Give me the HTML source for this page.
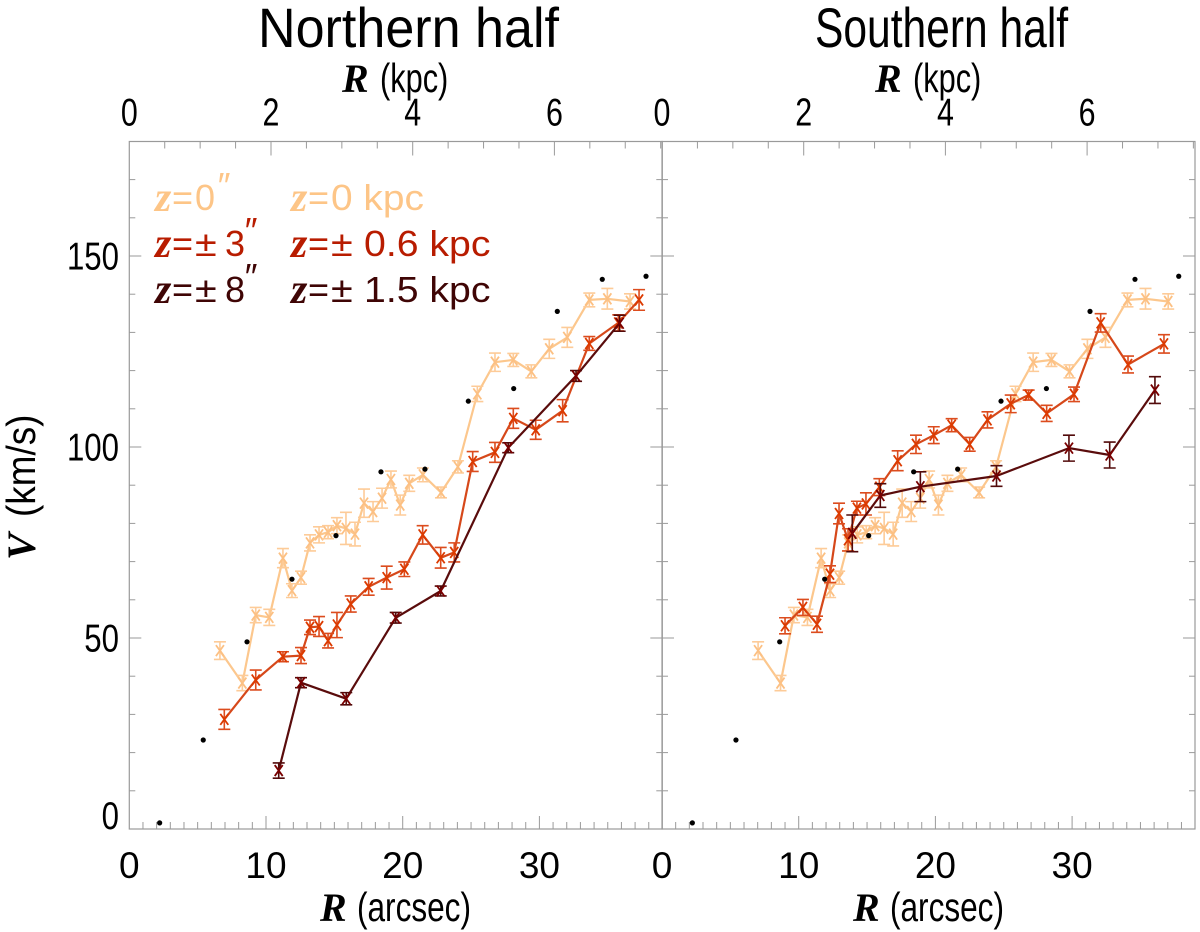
<!DOCTYPE html>
<html lang="en">
<head>
<meta charset="utf-8">
<title>Rotation curves: Northern and Southern halves</title>
<style>
html,body{margin:0;padding:0;background:#fff;}
svg{display:block;}
text{font-family:"Liberation Sans",sans-serif;fill:#000;}
.r{font-family:"Liberation Serif",serif;font-weight:bold;font-style:italic;}
</style>
</head>
<body>
<svg id="chart" xmlns="http://www.w3.org/2000/svg" width="1200" height="932" viewBox="0 0 1200 932">
  <rect width="1200" height="932" fill="#fff"/>

  <text transform="translate(258 47) scale(0.93 1)" font-size="56">Northern half</text>
  <text transform="translate(815 47) scale(0.76 1)" font-size="56">Southern half</text>

  <g>
    <text class="r" x="342" y="92" font-size="40">R</text>
    <text transform="translate(380 92) scale(0.75 1)" font-size="41">(kpc)</text>
  </g>
  <g>
    <text class="r" x="875" y="92" font-size="40">R</text>
    <text transform="translate(913 92) scale(0.75 1)" font-size="41">(kpc)</text>
  </g>
  <g>
    <text class="r" x="320" y="921" font-size="40">R</text>
    <text transform="translate(357 921) scale(0.77 1)" font-size="41">(arcsec)</text>
  </g>
  <g>
    <text class="r" x="853" y="921" font-size="40">R</text>
    <text transform="translate(890 921) scale(0.77 1)" font-size="41">(arcsec)</text>
  </g>
  <g>
    <text class="r" transform="translate(35 560) rotate(-90)" font-size="40">V</text>
    <text transform="translate(35 517) rotate(-90) scale(0.9 1)" font-size="41">(km/s)</text>
  </g>

  <g id="axes"></g>
  <g id="marks"></g>

  <g>
    <g>
      <text class="r" x="155" y="211" font-size="42" style="fill:#fdc587">z</text>
      <text x="172" y="210" font-size="36" style="fill:#fdc587">=</text>
      <text x="195" y="210" font-size="36" style="fill:#fdc587">0</text>
      <text x="216" y="198" font-size="36" font-style="italic" style="fill:#fdc587">″</text>
    </g>
    <g>
      <text class="r" x="155" y="257" font-size="42" style="fill:#b81c00">z</text>
      <text x="172" y="256" font-size="36" style="fill:#b81c00">=</text>
      <text transform="translate(195 256) scale(1.1 1)" font-size="36" style="fill:#b81c00">±</text>
      <text x="225" y="256" font-size="36" style="fill:#b81c00">3</text>
      <text x="243" y="243" font-size="36" font-style="italic" style="fill:#b81c00">″</text>
    </g>
    <g>
      <text class="r" x="155" y="303" font-size="42" style="fill:#3f0505">z</text>
      <text x="172" y="302" font-size="36" style="fill:#3f0505">=</text>
      <text transform="translate(195 302) scale(1.1 1)" font-size="36" style="fill:#3f0505">±</text>
      <text x="225" y="302" font-size="36" style="fill:#3f0505">8</text>
      <text x="243" y="289" font-size="36" font-style="italic" style="fill:#3f0505">″</text>
    </g>
  </g>
  <g>
    <g>
      <text class="r" x="291" y="211" font-size="42" style="fill:#fdc587">z</text>
      <text x="308" y="210" font-size="36" style="fill:#fdc587">=</text>
      <text transform="translate(331 210) scale(1.08 1)" font-size="36" style="fill:#fdc587">0 kpc</text>
    </g>
    <g>
      <text class="r" x="291" y="257" font-size="42" style="fill:#b81c00">z</text>
      <text x="308" y="256" font-size="36" style="fill:#b81c00">=</text>
      <text transform="translate(331 256) scale(1.1 1)" font-size="36" style="fill:#b81c00">±</text>
      <text transform="translate(364 256) scale(1.09 1)" font-size="36" style="fill:#b81c00">0.6 kpc</text>
    </g>
    <g>
      <text class="r" x="291" y="303" font-size="42" style="fill:#3f0505">z</text>
      <text x="308" y="302" font-size="36" style="fill:#3f0505">=</text>
      <text transform="translate(331 302) scale(1.1 1)" font-size="36" style="fill:#3f0505">±</text>
      <text transform="translate(364 302) scale(1.09 1)" font-size="36" style="fill:#3f0505">1.5 kpc</text>
    </g>
  </g>
</svg>
<script>
const dotR = [2.22,5.41,8.61,11.90,15.12,18.41,21.63,24.80,28.12,31.31,34.60,37.80];
const dotV = [1.6,23.3,49.0,65.4,76.8,93.5,94.2,112.0,115.3,135.5,143.9,144.7];

const lightV = [46.7,38.2,56.0,55.4,70.9,62.4,65.8,74.9,77.0,77.7,79.4,78.7,77.2,85.3,83.1,86.6,91.5,84.8,90.5,92.7,88.1,94.8,113.9,122.2,122.8,119.8,125.7,128.7,138.5,138.8,138.1];
const lightE = [2.3,2.0,2.0,2.1,2.5,1.8,1.7,2.1,2.1,1.7,2.1,4.2,3.1,3.7,2.6,2.6,2.2,2.6,2.1,1.8,1.4,1.6,2.0,2.4,1.7,1.7,2.5,2.6,1.8,2.7,2.0];
const lightRNorth = [6.63,8.27,9.25,10.24,11.24,11.90,12.56,13.22,13.88,14.54,15.19,15.85,16.51,17.17,17.83,18.49,19.14,19.82,20.48,21.48,22.80,24.04,25.46,26.75,28.09,29.41,30.72,32.04,33.65,34.97,36.63];
const lightRSouth = [7.03,8.67,9.65,10.64,11.64,12.30,12.96,13.62,14.28,14.94,15.59,16.25,16.91,17.57,18.23,18.89,19.54,20.22,20.88,21.88,23.20,24.44,25.86,27.15,28.49,29.81,31.12,32.44,34.05,35.37,37.03];

const midRNorth = [6.95,9.25,11.24,12.56,13.22,13.88,14.54,15.19,16.20,17.51,18.83,20.12,21.46,22.78,23.77,25.12,26.75,28.09,29.73,31.70,33.65,35.77,37.29];
const midVNorth = [28.7,39.0,45.1,45.4,52.8,53.0,49.3,53.4,58.9,63.4,65.8,68.0,77.0,71.0,72.4,96.2,98.6,107.5,104.5,109.5,127.1,132.5,138.5];
const midENorth = [2.6,2.6,1.3,2.1,1.9,2.6,1.9,3.3,2.1,2.2,3.0,1.9,2.4,2.7,2.5,2.6,2.6,2.6,2.5,2.9,1.8,2.1,2.7];

const darkRNorth = [10.93,12.56,15.87,19.49,22.78,27.72,32.68,35.87];
const darkVNorth = [15.3,38.3,34.1,55.3,62.3,99.8,118.6,132.4];
const darkENorth = [2.0,1.3,1.6,1.4,1.3,1.3,1.4,2.1];

const midRSouth = [9.00,10.31,11.34,12.29,12.95,13.61,14.26,14.92,15.90,17.24,18.58,19.88,21.19,22.51,23.81,25.51,26.82,28.14,30.14,32.09,34.09,36.72];
const midVSouth = [53.2,58.0,53.6,66.7,82.6,75.7,84.0,85.1,89.5,96.4,100.7,103.1,105.7,100.7,107.1,111.3,113.6,108.8,113.8,132.5,121.6,127.0];
const midESouth = [2.1,2.1,2.1,2.2,2.7,2.9,1.8,2.9,2.2,2.6,2.4,2.2,1.7,1.8,2.1,2.3,1.3,2.1,1.9,2.4,2.2,2.4];

const darkRSouth = [13.92,15.97,18.90,24.47,29.77,32.75,36.06];
const darkVSouth = [77.4,87.3,89.6,92.4,99.7,97.9,114.9];
const darkESouth = [4.8,3.1,3.9,2.7,3.4,3.4,3.5];

const yTickLabels = [0,50,100,150];
const bottomTickLabels = [0,10,20,30];
const topTickLabels = [0,2,4,6];

const NS = 'http://www.w3.org/2000/svg';
const AX0 = [129.3, 662];
const PANEL_W = 533;
const Y_BOTTOM = 829;
const Y_TOP = 141.5;
const xArc = (p, r) => AX0[p] + r * 13.67;
const xKpc = (p, k) => AX0[p] + k * 70.85;
const yVel = v => Y_BOTTOM - v * 3.82;

function make(parent, tag, attrs, txt) {
  const el = document.createElementNS(NS, tag);
  for (const k in attrs) el.setAttribute(k, attrs[k]);
  if (txt !== undefined) el.textContent = txt;
  parent.appendChild(el);
  return el;
}

const axes = document.getElementById('axes');
const marks = document.getElementById('marks');
const AXC = '#9a9a9a';

function tick(g, x1, y1, x2, y2) {
  const t = make(g, 'line', {x1, y1, x2, y2, stroke: AXC, 'stroke-width': 1});
  
  
}

function label(g, x, y, str, size, sx, anchor) {
  const t = make(g, 'text', {transform: 'translate(' + x + ' ' + y + ') scale(' + sx + ' 1)', 'font-size': size, 'text-anchor': anchor}, String(str));
  
  
}

[0, 1].forEach(p => {
  const g = make(axes, 'g', {});
  
  
  const frame = make(g, 'rect', {x: AX0[p], y: Y_TOP, width: PANEL_W, height: Y_BOTTOM - Y_TOP, fill: 'none', stroke: AXC, 'stroke-width': 1.2});
  
  
  for (let r = 1; r < 39; r++) {
    const len = r % 10 === 0 ? 13 : 7;
    tick(g, xArc(p, r), Y_BOTTOM, xArc(p, r), Y_BOTTOM - len);
  }
  for (let k = 0.5; k < 7.6; k += 0.5) {
    const len = k % 2 === 0 ? 14 : 7;
    tick(g, xKpc(p, k), Y_TOP, xKpc(p, k), Y_TOP + len);
  }
  for (let v = 10; v < 180; v += 10) {
    const len = v % 50 === 0 ? 12 : 6;
    tick(g, AX0[p], yVel(v), AX0[p] + len, yVel(v));
    tick(g, AX0[p] + PANEL_W, yVel(v), AX0[p] + PANEL_W - len, yVel(v));
  }
  bottomTickLabels.forEach(r => label(g, xArc(p, r), 878, r, 37, 1, 'middle'));
  topTickLabels.forEach(k => label(g, xKpc(p, k), 125.5, k, 39, 0.78, 'middle'));
});

yTickLabels.forEach(v => {
  label(axes, 119, v === 0 ? Y_BOTTOM : yVel(v) + 13.5, v, 39, 0.8, 'end');
});

function drawSeries(p, name, R, V, E, lineC, errC, markC, lw) {
  const g = make(marks, 'g', {});
  
  
  const pts = R.map((r, i) => xArc(p, r).toFixed(1) + ',' + yVel(V[i]).toFixed(1)).join(' ');
  const line = make(g, 'polyline', {points: pts, fill: 'none', stroke: lineC, 'stroke-width': lw, 'stroke-linejoin': 'round'});
  
  
  R.forEach((r, i) => {
    const x = xArc(p, r), y = yVel(V[i]), top = yVel(V[i] + E[i]), bot = yVel(V[i] - E[i]);
    const bar = make(g, 'path', {d: 'M' + (x - 6) + ' ' + top + 'H' + (x + 6) + 'M' + x + ' ' + top + 'V' + bot + 'M' + (x - 6) + ' ' + bot + 'H' + (x + 6), fill: 'none', stroke: errC, 'stroke-width': 1.6});
    
    
    const mark = make(g, 'path', {d: 'M' + (x - 4) + ' ' + (y - 5.5) + 'L' + (x + 4) + ' ' + (y + 5.5) + 'M' + (x + 4) + ' ' + (y - 5.5) + 'L' + (x - 4) + ' ' + (y + 5.5), fill: 'none', stroke: markC, 'stroke-width': 1.8});
    
    
  });
}

function drawDots(p, name) {
  const g = make(marks, 'g', {});
  
  
  dotR.forEach((r, i) => {
    const c = make(g, 'circle', {cx: xArc(p, r), cy: yVel(dotV[i]), r: 2.6, fill: '#000'});
    
    
  });
}

const L = ['#fcc78d', '#fdcb98', '#fcc083'];
const M = ['#d6481a', '#dc4c1e', '#dc3a00'];
const D = ['#5a0c0c', '#520a0a', '#7a0000'];

drawSeries(0, 'north-z0-series', lightRNorth, lightV, lightE, L[0], L[1], L[2], 2.2);
drawSeries(0, 'north-z3-series', midRNorth, midVNorth, midENorth, M[0], M[1], M[2], 2.2);
drawSeries(0, 'north-z8-series', darkRNorth, darkVNorth, darkENorth, D[0], D[1], D[2], 2.2);
drawDots(0, 'north-dots');

drawSeries(1, 'south-z0-series', lightRSouth, lightV, lightE, L[0], L[1], L[2], 2.2);
drawSeries(1, 'south-z3-series', midRSouth, midVSouth, midESouth, M[0], M[1], M[2], 2.2);
drawSeries(1, 'south-z8-series', darkRSouth, darkVSouth, darkESouth, D[0], D[1], D[2], 2.2);
drawDots(1, 'south-dots');
</script>
</body>
</html>
